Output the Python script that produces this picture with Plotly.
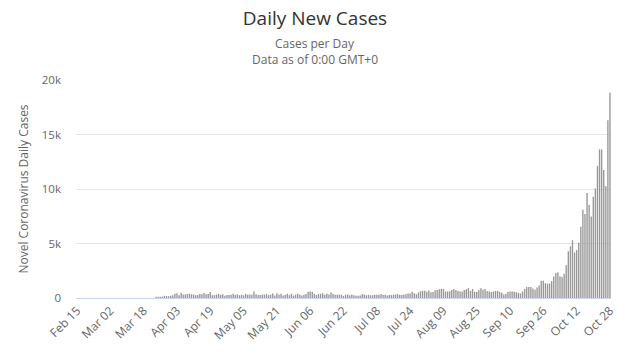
import pandas as pd
import plotly.graph_objects as go

# categories: one bar per day, Feb 15 .. Oct 28 (2020)
dates = pd.date_range("2020-02-15", "2020-10-28", freq="D")
categories = [d.strftime("%b %d") for d in dates]

feb_cases = [0] * 15
mar_cases = [0, 0, 0, 0, 0, 0, 0, 0, 0, 0, 0, 0, 0, 0, 0, 0, 0, 0, 0, 0,
             0, 0, 0, 110, 105, 125, 130, 200, 180, 160, 210]
apr_cases = [243, 392, 437, 244, 475, 311, 325, 370, 380, 336, 318, 260, 268, 380, 336,
             461, 336, 363, 545, 263, 263, 313, 381, 282, 344, 202, 285, 284, 300, 380]
may_cases = [267, 331, 252, 289, 246, 391, 307, 325, 293, 595, 345, 285, 273, 316, 310,
             380, 258, 307, 404, 227, 443, 304, 383, 240, 280, 395, 262, 399, 213, 311, 380]
jun_cases = [292, 230, 292, 361, 576, 599, 575, 375, 282, 359, 376, 440, 305, 407, 314,
             506, 371, 302, 301, 309, 300, 193, 315, 311, 242, 314, 260, 196, 197, 232]
jul_cases = [371, 321, 245, 281, 243, 262, 288, 299, 290, 358, 277, 299, 232, 286, 267,
             298, 320, 358, 299, 274, 314, 337, 418, 411, 584, 443, 337, 512, 615, 657, 658]
aug_cases = [582, 680, 534, 548, 680, 726, 809, 843, 832, 597, 599, 618, 727, 815, 727,
             641, 587, 587, 726, 811, 903, 658, 831, 574, 549, 721, 887, 751, 817, 640, 592]
sep_cases = [550, 595, 641, 652, 558, 488, 324, 384, 553, 601, 596, 579, 521, 467, 410,
             600, 834, 1002, 1002, 1006, 875, 746, 973, 1136, 1587, 1584, 1350, 1306, 1326, 1552]
oct_cases = [1967, 2292, 2367, 2006, 1934, 2236, 3003, 4280, 4739, 5300, 4178, 4394, 5068,
             6526, 8099, 7705, 9622, 8536, 7482, 9291, 10040, 12107, 13632, 13628, 11742,
             10241, 16300, 18820]

daily_cases = (feb_cases + mar_cases + apr_cases + may_cases + jun_cases + jul_cases
               + aug_cases + sep_cases + oct_cases)

x_tick_labels = ["Feb 15", "Mar 02", "Mar 18", "Apr 03", "Apr 19", "May 05", "May 21",
                 "Jun 06", "Jun 22", "Jul 08", "Jul 24", "Aug 09", "Aug 25", "Sep 10",
                 "Sep 26", "Oct 12", "Oct 28"]
y_tick_values = [0, 5000, 10000, 15000, 20000]
y_tick_labels = ["0", "5k", "10k", "15k", "20k"]

FONT = "Open Sans, Noto Sans, sans-serif"

fig = go.Figure(
    go.Bar(
        x=categories,
        y=daily_cases,
        marker=dict(color="rgba(153,153,153,0.999)",
                    line=dict(width=0.02, color="rgba(153,153,153,0.999)")),
        name="Daily Cases",
    )
)

fig.update_layout(
    width=644,
    height=356,
    margin=dict(l=76, r=33, t=80, b=58),
    paper_bgcolor="white",
    plot_bgcolor="white",
    bargap=0.35,
    showlegend=False,
    font=dict(family=FONT, color="#666666"),
    title=dict(
        text="Daily New Cases",
        x=315 / 644,
        xanchor="center",
        xref="container",
        y=1 - 18 / 356,
        yanchor="middle",
        font=dict(family=FONT, size=19, color="#333333"),
    ),
    annotations=[
        dict(text="Cases per Day", xref="paper", yref="paper",
             x=(315 - 76) / 535, y=(298 - 43.5) / 218, xanchor="center", yanchor="middle",
             showarrow=False, font=dict(family=FONT, size=12, color="#666666")),
        dict(text="Data as of 0:00 GMT+0", xref="paper", yref="paper",
             x=(315 - 76) / 535, y=(298 - 59.5) / 218, xanchor="center", yanchor="middle",
             showarrow=False, font=dict(family=FONT, size=12, color="#666666")),
    ],
)

fig.update_xaxes(
    type="category",
    categoryorder="array",
    categoryarray=categories,
    tickmode="array",
    tickvals=x_tick_labels,
    ticktext=x_tick_labels,
    tickangle=-45,
    tickfont=dict(family=FONT, size=12, color="#666666"),
    showgrid=False,
    showline=True,
    linecolor="#ccd6eb",
    linewidth=1,
    ticks="",
    range=[-0.5, len(categories) - 0.5],
    zeroline=False,
)

fig.update_yaxes(
    range=[0, 20000],
    tickmode="array",
    tickvals=y_tick_values,
    ticktext=y_tick_labels,
    tickfont=dict(family=FONT, size=11.5, color="#666666"),
    showgrid=True,
    gridcolor="#e6e6e6",
    gridwidth=1,
    zeroline=False,
    showline=False,
    ticks="",
    ticklabelstandoff=14,
    title=dict(text="Novel Coronavirus Daily Cases", standoff=10,
               font=dict(family=FONT, size=12, color="#666666")),
)

fig.write_html("out.html", config={"displayModeBar": False},
               post_script="document.body.style.margin='0';")
